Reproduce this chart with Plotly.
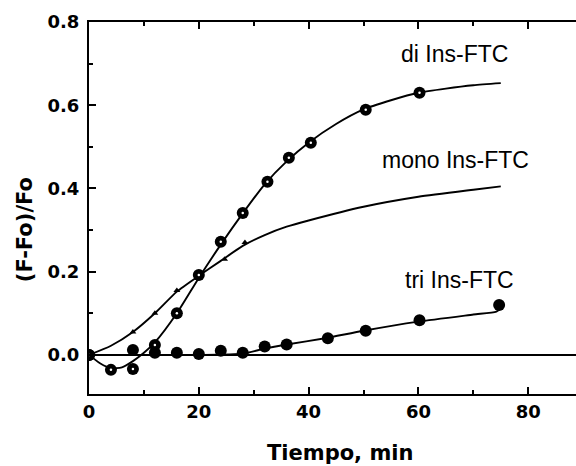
import plotly.graph_objects as go

# --- data ---
# di Ins-FTC measured points
di_t = [0, 4, 8, 12, 16, 20, 24, 28, 32.5, 36.4, 40.4, 50.4, 60.2]
di_v = [0, -0.036, -0.034, 0.024, 0.10, 0.192, 0.272, 0.341, 0.416, 0.474, 0.51, 0.589, 0.63]
# di fitted curve
di_fit_t = [0, 2, 4, 6, 8, 10, 12, 16, 20, 24, 28, 32, 36, 40, 45, 50, 55, 60, 65, 70, 75]
di_fit_v = [0, -0.02, -0.032, -0.03, -0.015, 0.005, 0.03, 0.10, 0.185, 0.265, 0.34, 0.41,
            0.465, 0.51, 0.555, 0.59, 0.612, 0.63, 0.64, 0.648, 0.653]

# mono Ins-FTC curve and its small markers
mono_fit_t = [0, 4, 8, 12, 16, 20, 24, 28, 32, 36, 40, 50, 60, 70, 75]
mono_fit_v = [0, 0.022, 0.055, 0.10, 0.152, 0.19, 0.226, 0.262, 0.288, 0.308, 0.323,
              0.356, 0.38, 0.397, 0.405]
mono_t = [8, 12, 16, 24.7, 28.4]
mono_v = [0.055, 0.10, 0.155, 0.23, 0.27]

# tri Ins-FTC measured points and fitted curve
tri_t = [0, 8, 12, 16, 20, 24, 28, 32, 36, 43.5, 50.4, 60.2, 74.7]
tri_v = [0, 0.012, 0.005, 0.005, 0.002, 0.01, 0.005, 0.02, 0.025, 0.04, 0.058, 0.083, 0.12]
tri_fit_t = [0, 10, 20, 28, 32, 36, 43, 50, 60, 70, 74.2, 75]
tri_fit_v = [0, 0, 0, 0.003, 0.015, 0.025, 0.04, 0.058, 0.08, 0.097, 0.104, 0.112]

x_ticks = [0, 20, 40, 60, 80]
y_ticks = [0.0, 0.2, 0.4, 0.6, 0.8]

labels = ["di Ins-FTC", "mono Ins-FTC", "tri Ins-FTC"]
label_t = [66.5, 66.7, 67.5]
label_v = [0.722, 0.469, 0.181]

fig = go.Figure()

line_style = dict(color="black", width=1.9, shape="spline", smoothing=0.6)
fig.add_trace(go.Scatter(x=di_fit_t, y=di_fit_v, mode="lines", line=line_style, hoverinfo="skip"))
fig.add_trace(go.Scatter(x=mono_fit_t, y=mono_fit_v, mode="lines", line=line_style, hoverinfo="skip"))
fig.add_trace(go.Scatter(x=tri_fit_t, y=tri_fit_v, mode="lines", line=line_style, hoverinfo="skip"))

fig.add_trace(go.Scatter(x=mono_t, y=mono_v, mode="markers",
                         marker=dict(symbol="triangle-up", size=6, color="black")))
fig.add_trace(go.Scatter(x=tri_t, y=tri_v, mode="markers",
                         marker=dict(symbol="circle", size=12, color="black")))
fig.add_trace(go.Scatter(x=di_t, y=di_v, mode="markers",
                         marker=dict(symbol="circle", size=12, color="black")))
fig.add_trace(go.Scatter(x=di_t, y=di_v, mode="markers",
                         marker=dict(symbol="circle", size=2.5, color="white")))

for txt, tx, ty in zip(labels, label_t, label_v):
    fig.add_annotation(x=tx, y=ty, text=txt, showarrow=False, xanchor="center", yanchor="middle",
                       font=dict(family="Liberation Sans, Arial", size=23, color="black"))

title_font = dict(family="DejaVu Sans", size=21, color="black", weight="bold")
fig.add_annotation(xref="paper", yref="paper", x=0.515, y=-0.159, text="Tiempo, min",
                   showarrow=False, xanchor="center", yanchor="middle", font=title_font)
fig.add_annotation(xref="paper", yref="paper", x=-0.131, y=0.441, text="(F-Fo)/Fo",
                   textangle=-90, showarrow=False, xanchor="center", yanchor="middle", font=title_font)

tick_font = dict(family="DejaVu Sans", size=18, color="black", weight="bold")
fig.update_xaxes(range=[0, 88.7], tickvals=x_ticks, ticks="inside", ticklen=7, tickwidth=2,
                 tickcolor="black", showline=True, linewidth=2, linecolor="black", mirror="ticks",
                 showgrid=False, zeroline=False, tickfont=tick_font, ticklabelstandoff=0,
                 minor=dict(ticks="inside", ticklen=4, tickwidth=1.5, dtick=10, tick0=0,
                            tickcolor="black", showgrid=False))
fig.update_yaxes(range=[-0.094, 0.8], tickvals=y_ticks, tickformat=".1f", ticks="inside",
                 ticklen=7, tickwidth=2, tickcolor="black", showline=True, linewidth=2,
                 linecolor="black", mirror=False, showgrid=False, zeroline=True,
                 zerolinecolor="black", zerolinewidth=2, tickfont=tick_font, ticklabelstandoff=4,
                 minor=dict(ticks="inside", ticklen=4, tickwidth=1.5, dtick=0.1, tick0=0,
                            tickcolor="black", showgrid=False))

fig.update_layout(width=576, height=466, margin=dict(l=89, r=0, t=22, b=72),
                  plot_bgcolor="white", paper_bgcolor="white", showlegend=False)

fig.write_html("out.html")
